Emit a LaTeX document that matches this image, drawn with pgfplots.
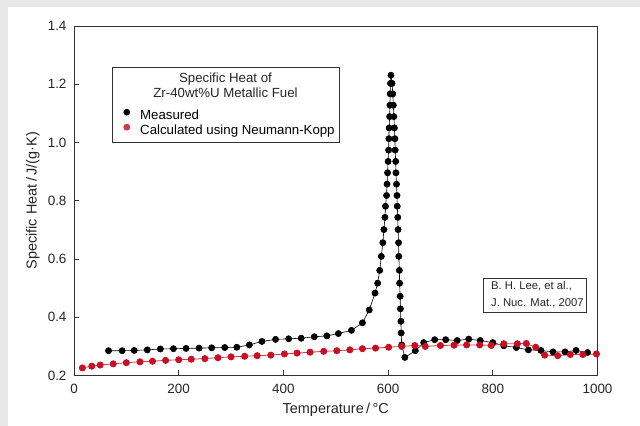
\documentclass[border=0pt]{standalone}
\usepackage{fontspec}
\setmainfont{Liberation Sans}
\usepackage{pgfplots}
\pgfplotsset{compat=1.18}
\definecolor{bggray}{RGB}{232,232,232}
\definecolor{mred}{RGB}{200,16,36}
\definecolor{lred}{RGB}{205,60,70}
\definecolor{frame}{RGB}{50,50,50}
\begin{document}
\begin{tikzpicture}
\fill[bggray] (-74bp,-50.5bp) rectangle (566bp,375.5bp);
\fill[white] (-66bp,-50.5bp) rectangle (566bp,368.5bp);
\useasboundingbox (-74bp,-50.5bp) rectangle (566bp,375.5bp);
\begin{axis}[
  name=ax, at={(0,0)}, anchor=south west,
  scale only axis, width=523.5bp, height=349.5bp,
  xmin=0, xmax=1000, ymin=0.2, ymax=1.4,
  xtick={0,200,400,600,800,1000},
  ytick={0.2,0.4,0.6,0.8,1.0,1.2,1.4},
  yticklabel style={xshift=-4bp, /pgf/number format/.cd, fixed, fixed zerofill, precision=1},
  xticklabel style={yshift=-5bp},
  /pgf/number format/assume math mode=true,
  /pgf/number format/set thousands separator={},
  tick align=inside, xtick pos=left, ytick pos=left,
  major tick length=5bp,
  tick style={frame, line width=0.7bp},
  axis line style={frame, line width=0.8bp},
  ticklabel style={font=\fontsize{13.5}{16}\selectfont, text=black!85},
  label style={font=\fontsize{14.5}{17}\selectfont, text=black!85},
  xlabel={Temperature\,/\,°C},
  ylabel={Specific Heat\,/\,J/(g·K)},
  x label style={at={(axis description cs:0.5,-0.108)}, anchor=base},
  y label style={at={(axis description cs:-0.0783,0.5)}, anchor=center},
  legend style={at={(axis description cs:0.094,0.764)}, anchor=north west,
    draw=none, fill=none, inner sep=0pt, row sep=1bp,
    font=\fontsize{13.3}{16}\selectfont,
    nodes={inner sep=1bp, text height=9.5bp, text depth=2.5bp},
    /tikz/every odd column/.append style={column sep=9bp}},
  legend cell align=left,
  legend image code/.code={\fill[#1] (0bp,3.5bp) circle (3bp);},
]
\addplot[black, line width=0.6bp, mark=*, mark size=3.1bp, mark options={fill=black}] coordinates {
(66,0.285) (92,0.285) (115,0.286) (140,0.288) (165,0.291) (190,0.292) (214,0.293)
(239,0.294) (263,0.295) (288,0.296) (311,0.297) (335,0.305) (359,0.317) (385,0.324)
(410,0.326) (434,0.328) (459,0.333) (483,0.336) (505,0.344) (530,0.355) (551,0.381)
(564,0.425) (575,0.483) (580,0.517) (584,0.561) (587,0.609) (590,0.656) (592,0.701)
(594,0.743) (595,0.781) (597,0.818) (598,0.857) (599,0.896) (600,0.935) (601,0.974)
(601.5,1.013) (602,1.050) (603,1.089) (603.5,1.128) (604,1.167) (604.5,1.203) (605.5,1.231)
(607.5,1.203) (609,1.167) (610,1.128) (611,1.089) (612,1.050) (613,1.013) (613.5,0.974)
(614.5,0.935) (615,0.896) (616,0.857) (617,0.818) (617.5,0.781) (618.5,0.743) (619,0.701)
(620,0.656) (620.5,0.609) (621.5,0.561) (622,0.517) (623,0.472) (623.5,0.429) (624.5,0.386)
(625,0.346) (626,0.305) (632,0.262) (652,0.285) (668,0.313) (689,0.323) (710,0.323)
(732,0.320) (754,0.325) (776,0.320) (800,0.313) (821,0.302) (845,0.296) (868,0.288)
(892,0.286) (915,0.281) (938,0.281) (959,0.286) (981,0.279)
};
\addlegendentry{Measured}
\addplot[lred, line width=0.8bp, mark=*, mark size=3.1bp, mark options={fill=mred, draw=mred}] coordinates {
(16,0.226) (34,0.232) (50,0.236) (75,0.240) (100,0.244) (126,0.247) (150,0.249)
(175,0.252) (200,0.254) (224,0.256) (250,0.258) (275,0.261) (300,0.264) (326,0.266)
(350,0.268) (376,0.270) (402,0.274) (426,0.277) (451,0.280) (477,0.283) (502,0.285)
(527,0.288) (551,0.292) (576,0.294) (601,0.297) (626,0.300) (651,0.303) (671,0.300)
(700,0.303) (726,0.304) (750,0.305) (775,0.305) (797,0.303) (821,0.309) (847,0.309)
(864,0.310) (882,0.297) (899,0.270) (924,0.268) (948,0.272) (972,0.272) (998,0.274)
};
\addlegendentry{Calculated using Neumann-Kopp}
\end{axis}
\draw[frame, line width=0.8bp] ([shift={(38bp,-41bp)}]ax.north west) rectangle ([shift={(265bp,-116bp)}]ax.north west);
\node[anchor=base, font=\fontsize{13.3}{16}\selectfont, text=black!85, inner sep=0pt] at ([shift={(151.5bp,-56.2bp)}]ax.north west) {Specific Heat of};
\node[anchor=base, font=\fontsize{13.3}{16}\selectfont, text=black!85, inner sep=0pt] at ([shift={(151.5bp,-71.2bp)}]ax.north west) {Zr-40wt\%U Metallic Fuel};
\draw[frame, line width=0.8bp] ([shift={(409bp,-252bp)}]ax.north west) rectangle ([shift={(512bp,-286bp)}]ax.north west);
\node[anchor=base west, font=\fontsize{11.3}{13.5}\selectfont, text=black!85, inner sep=0pt] at ([shift={(417bp,-263bp)}]ax.north west) {B. H. Lee, et al.,};
\node[anchor=base west, font=\fontsize{11.3}{13.5}\selectfont, text=black!85, inner sep=0pt] at ([shift={(417bp,-280bp)}]ax.north west) {J. Nuc. Mat., 2007};
\end{tikzpicture}
\end{document}
